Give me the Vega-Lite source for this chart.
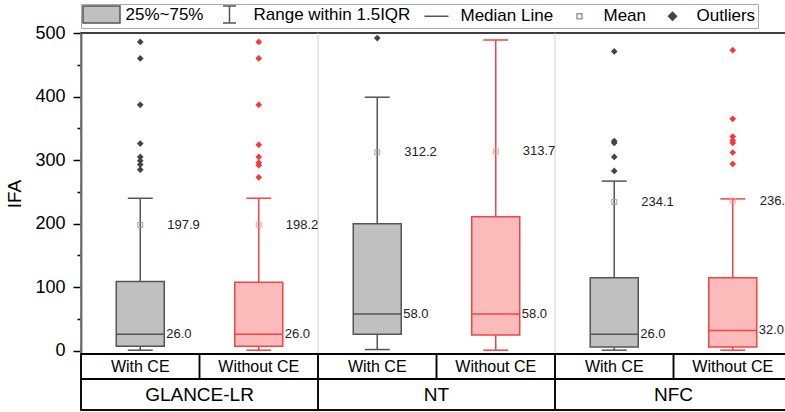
{
  "$schema": "https://vega.github.io/schema/vega-lite/v6.json",
  "padding": {"left": 5, "top": 2, "right": 0, "bottom": 0},
  "background": "white",
  "bounds": "flush",
  "config": {
    "font": "Liberation Sans",
    "view": {"stroke": "#000", "strokeWidth": 1.5}
  },
  "datasets": {
    "boxes": [
      {"method": "GLANCE-LR", "variant": "With CE", "lower": 1, "q1": 7, "median": 26.0, "q3": 109, "upper": 240, "mean": 197.9},
      {"method": "GLANCE-LR", "variant": "Without CE", "lower": 1, "q1": 7, "median": 26.0, "q3": 108, "upper": 240, "mean": 198.2},
      {"method": "NT", "variant": "With CE", "lower": 2, "q1": 26, "median": 58.0, "q3": 200, "upper": 399, "mean": 312.2},
      {"method": "NT", "variant": "Without CE", "lower": 1, "q1": 25, "median": 58.0, "q3": 211, "upper": 489, "mean": 313.7},
      {"method": "NFC", "variant": "With CE", "lower": 1, "q1": 6, "median": 26.0, "q3": 115, "upper": 267, "mean": 234.1},
      {"method": "NFC", "variant": "Without CE", "lower": 1, "q1": 6, "median": 32.0, "q3": 115, "upper": 239, "mean": 236.2}
    ],
    "outliers": [
      {"method": "GLANCE-LR", "variant": "With CE", "value": 486},
      {"method": "GLANCE-LR", "variant": "With CE", "value": 460},
      {"method": "GLANCE-LR", "variant": "With CE", "value": 387},
      {"method": "GLANCE-LR", "variant": "With CE", "value": 326},
      {"method": "GLANCE-LR", "variant": "With CE", "value": 305},
      {"method": "GLANCE-LR", "variant": "With CE", "value": 299},
      {"method": "GLANCE-LR", "variant": "With CE", "value": 293},
      {"method": "GLANCE-LR", "variant": "With CE", "value": 285},
      {"method": "GLANCE-LR", "variant": "Without CE", "value": 486},
      {"method": "GLANCE-LR", "variant": "Without CE", "value": 460},
      {"method": "GLANCE-LR", "variant": "Without CE", "value": 387},
      {"method": "GLANCE-LR", "variant": "Without CE", "value": 324},
      {"method": "GLANCE-LR", "variant": "Without CE", "value": 305},
      {"method": "GLANCE-LR", "variant": "Without CE", "value": 296},
      {"method": "GLANCE-LR", "variant": "Without CE", "value": 292},
      {"method": "GLANCE-LR", "variant": "Without CE", "value": 273},
      {"method": "NT", "variant": "With CE", "value": 492},
      {"method": "NFC", "variant": "With CE", "value": 471},
      {"method": "NFC", "variant": "With CE", "value": 330},
      {"method": "NFC", "variant": "With CE", "value": 327},
      {"method": "NFC", "variant": "With CE", "value": 305},
      {"method": "NFC", "variant": "With CE", "value": 283},
      {"method": "NFC", "variant": "Without CE", "value": 473},
      {"method": "NFC", "variant": "Without CE", "value": 365},
      {"method": "NFC", "variant": "Without CE", "value": 337},
      {"method": "NFC", "variant": "Without CE", "value": 331},
      {"method": "NFC", "variant": "Without CE", "value": 327},
      {"method": "NFC", "variant": "Without CE", "value": 312},
      {"method": "NFC", "variant": "Without CE", "value": 294}
    ],
    "methods": [
      {"method": "GLANCE-LR"},
      {"method": "NT"},
      {"method": "NFC"}
    ],
    "legendItems": []
  },
  "spacing": 0,
  "vconcat": [
    {
      "width": 711,
      "height": 321,
      "layer": [
        {
          "data": {"name": "methods"},
          "mark": {"type": "rule", "color": "#d0d0d0", "strokeWidth": 1},
          "encoding": {
            "x": {"field": "method", "type": "nominal", "bandPosition": 0, "scale": {"domain": ["GLANCE-LR", "NT", "NFC"], "paddingInner": 0, "paddingOuter": 0}, "axis": null}
          }
        },
        {
          "data": {"name": "boxes"},
          "mark": {"type": "rule", "strokeWidth": 1.5},
          "encoding": {
            "x": {"field": "method", "type": "nominal", "scale": {"domain": ["GLANCE-LR", "NT", "NFC"], "paddingInner": 0, "paddingOuter": 0}, "axis": null},
            "xOffset": {"field": "variant", "type": "nominal", "scale": {"domain": ["With CE", "Without CE"], "paddingInner": 0, "paddingOuter": 0}},
            "y": {"field": "lower", "type": "quantitative", "scale": {"domain": [-5, 500], "nice": false, "zero": false},
              "axis": {"orient": "left", "values": [0, 100, 200, 300, 400, 500], "title": "IFA", "titleFontSize": 19, "titleFontWeight": "normal", "titleColor": "#000", "titlePadding": 10, "labelFontSize": 18, "labelColor": "#000", "labelPadding": 8, "tickSize": 8, "tickWidth": 1.5, "tickColor": "#000", "domainColor": "#000", "domainWidth": 1.5, "grid": false}},
            "y2": {"field": "upper"},
            "stroke": {"field": "variant", "type": "nominal", "scale": {"domain": ["With CE", "Without CE"], "range": ["#555555", "#F24444"]}, "legend": null}
          }
        },
        {
          "data": {"name": "boxes"},
          "mark": {"type": "bar", "size": 48, "strokeWidth": 1.5},
          "encoding": {
            "x": {"field": "method", "type": "nominal", "scale": {"domain": ["GLANCE-LR", "NT", "NFC"], "paddingInner": 0, "paddingOuter": 0}, "axis": null},
            "xOffset": {"field": "variant", "type": "nominal", "scale": {"domain": ["With CE", "Without CE"], "paddingInner": 0, "paddingOuter": 0}},
            "y": {"field": "q1", "type": "quantitative",
              "axis": {"orient": "left", "values": [50, 150, 250, 350, 450], "labels": false, "title": null, "tickSize": 4, "tickWidth": 1.5, "tickColor": "#000", "domain": false, "grid": false}},
            "y2": {"field": "q3"},
            "fill": {"field": "variant", "type": "nominal", "scale": {"domain": ["With CE", "Without CE"], "range": ["#C0C0C0", "#FBBBBB"]}, "legend": null},
            "stroke": {"field": "variant", "type": "nominal", "scale": {"domain": ["With CE", "Without CE"], "range": ["#555555", "#F24444"]}, "legend": null}
          }
        },
        {
          "data": {"name": "boxes"},
          "mark": {"type": "tick", "size": 48, "thickness": 1.5, "opacity": 1},
          "encoding": {
            "x": {"field": "method", "type": "nominal", "scale": {"domain": ["GLANCE-LR", "NT", "NFC"], "paddingInner": 0, "paddingOuter": 0}, "axis": null},
            "xOffset": {"field": "variant", "type": "nominal", "scale": {"domain": ["With CE", "Without CE"], "paddingInner": 0, "paddingOuter": 0}},
            "y": {"field": "median", "type": "quantitative", "axis": null},
            "color": {"field": "variant", "type": "nominal", "scale": {"domain": ["With CE", "Without CE"], "range": ["#555555", "#F24444"]}, "legend": null}
          }
        },
        {
          "data": {"name": "boxes"},
          "mark": {"type": "tick", "size": 25, "thickness": 1.5, "opacity": 1},
          "encoding": {
            "x": {"field": "method", "type": "nominal", "scale": {"domain": ["GLANCE-LR", "NT", "NFC"], "paddingInner": 0, "paddingOuter": 0}, "axis": null},
            "xOffset": {"field": "variant", "type": "nominal", "scale": {"domain": ["With CE", "Without CE"], "paddingInner": 0, "paddingOuter": 0}},
            "y": {"field": "upper", "type": "quantitative", "axis": null},
            "color": {"field": "variant", "type": "nominal", "scale": {"domain": ["With CE", "Without CE"], "range": ["#555555", "#F24444"]}, "legend": null}
          }
        },
        {
          "data": {"name": "boxes"},
          "mark": {"type": "tick", "size": 25, "thickness": 1.5, "opacity": 1},
          "encoding": {
            "x": {"field": "method", "type": "nominal", "scale": {"domain": ["GLANCE-LR", "NT", "NFC"], "paddingInner": 0, "paddingOuter": 0}, "axis": null},
            "xOffset": {"field": "variant", "type": "nominal", "scale": {"domain": ["With CE", "Without CE"], "paddingInner": 0, "paddingOuter": 0}},
            "y": {"field": "lower", "type": "quantitative", "axis": null},
            "color": {"field": "variant", "type": "nominal", "scale": {"domain": ["With CE", "Without CE"], "range": ["#555555", "#F24444"]}, "legend": null}
          }
        },
        {
          "data": {"name": "boxes"},
          "mark": {"type": "point", "shape": "square", "size": 25, "filled": false, "strokeWidth": 1, "opacity": 1},
          "encoding": {
            "x": {"field": "method", "type": "nominal", "scale": {"domain": ["GLANCE-LR", "NT", "NFC"], "paddingInner": 0, "paddingOuter": 0}, "axis": null},
            "xOffset": {"field": "variant", "type": "nominal", "scale": {"domain": ["With CE", "Without CE"], "paddingInner": 0, "paddingOuter": 0}},
            "y": {"field": "mean", "type": "quantitative", "axis": null},
            "color": {"field": "variant", "type": "nominal", "scale": {"domain": ["With CE", "Without CE"], "range": ["#A0A0A0", "#F59A9A"]}, "legend": null}
          }
        },
        {
          "data": {"name": "boxes"},
          "mark": {"type": "text", "align": "left", "baseline": "middle", "dx": 27, "fontSize": 13, "color": "#222"},
          "encoding": {
            "x": {"field": "method", "type": "nominal", "scale": {"domain": ["GLANCE-LR", "NT", "NFC"], "paddingInner": 0, "paddingOuter": 0}, "axis": null},
            "xOffset": {"field": "variant", "type": "nominal", "scale": {"domain": ["With CE", "Without CE"], "paddingInner": 0, "paddingOuter": 0}},
            "y": {"field": "mean", "type": "quantitative", "axis": null},
            "text": {"field": "mean", "type": "quantitative", "format": ".1f"}
          }
        },
        {
          "data": {"name": "boxes"},
          "mark": {"type": "text", "align": "left", "baseline": "middle", "dx": 26, "fontSize": 13, "color": "#222"},
          "encoding": {
            "x": {"field": "method", "type": "nominal", "scale": {"domain": ["GLANCE-LR", "NT", "NFC"], "paddingInner": 0, "paddingOuter": 0}, "axis": null},
            "xOffset": {"field": "variant", "type": "nominal", "scale": {"domain": ["With CE", "Without CE"], "paddingInner": 0, "paddingOuter": 0}},
            "y": {"field": "median", "type": "quantitative", "axis": null},
            "text": {"field": "median", "type": "quantitative", "format": ".1f"}
          }
        },
        {
          "data": {"name": "outliers"},
          "mark": {"type": "point", "shape": "diamond", "size": 45, "filled": true, "opacity": 1},
          "encoding": {
            "x": {"field": "method", "type": "nominal", "scale": {"domain": ["GLANCE-LR", "NT", "NFC"], "paddingInner": 0, "paddingOuter": 0}, "axis": null},
            "xOffset": {"field": "variant", "type": "nominal", "scale": {"domain": ["With CE", "Without CE"], "paddingInner": 0, "paddingOuter": 0}},
            "y": {"field": "value", "type": "quantitative", "axis": null},
            "color": {"field": "variant", "type": "nominal", "scale": {"domain": ["With CE", "Without CE"], "range": ["#444444", "#F43A3A"]}, "legend": null}
          }
        },
        {
          "data": {"name": "legendItems"},
          "mark": {"type": "point", "opacity": 1, "strokeWidth": 1.5},
          "encoding": {
            "shape": {"field": "item", "type": "nominal", "title": null,
              "scale": {"domain": ["25%~75%", "Range within 1.5IQR", "Median Line", "Mean", "Outliers"],
                "range": ["M-3.7,-1.7H3.7V1.7H-3.7Z", "M-1.3,-1.7H1.3M0,-1.7V1.7M-1.3,1.7H1.3", "M-2.4,0H2.4", "M-0.5,-0.5H0.5V0.5H-0.5Z", "M0,-0.8L0.8,0L0,0.8L-0.8,0Z"]},
              "legend": {"orient": "top", "direction": "horizontal", "symbolSize": 100, "symbolStrokeWidth": 1.5, "symbolOffset": 10, "labelOffset": 15.5, "columnPadding": 7, "labelFontSize": 17, "labelColor": "#000", "padding": 2, "strokeColor": "#aaaaaa", "fillColor": "#ffffff", "offset": 5, "symbolOpacity": 1}},
            "fill": {"field": "item", "type": "nominal", "title": null,
              "scale": {"domain": ["25%~75%", "Range within 1.5IQR", "Median Line", "Mean", "Outliers"],
                "range": ["#C0C0C0", "transparent", "transparent", "transparent", "#444444"]},
              "legend": {"orient": "top", "direction": "horizontal", "symbolSize": 100, "symbolStrokeWidth": 1.5, "symbolOffset": 10, "labelOffset": 15.5, "columnPadding": 7, "labelFontSize": 17, "labelColor": "#000", "padding": 2, "strokeColor": "#aaaaaa", "fillColor": "#ffffff", "offset": 5, "symbolOpacity": 1}},
            "stroke": {"field": "item", "type": "nominal", "title": null,
              "scale": {"domain": ["25%~75%", "Range within 1.5IQR", "Median Line", "Mean", "Outliers"],
                "range": ["#555555", "#555555", "#555555", "#999999", "#444444"]},
              "legend": {"orient": "top", "direction": "horizontal", "symbolSize": 100, "symbolStrokeWidth": 1.5, "symbolOffset": 10, "labelOffset": 15.5, "columnPadding": 7, "labelFontSize": 17, "labelColor": "#000", "padding": 2, "strokeColor": "#aaaaaa", "fillColor": "#ffffff", "offset": 5, "symbolOpacity": 1}}
          }
        }
      ],
      "resolve": {
        "scale": {"color": "independent", "fill": "independent", "stroke": "independent", "shape": "independent"},
        "axis": {"y": "independent"}
      }
    },
    {
      "width": 711,
      "height": 25,
      "data": {"name": "boxes"},
      "layer": [
        {
          "mark": {"type": "bar", "fill": "transparent", "stroke": "#000", "strokeWidth": 1.5},
          "encoding": {
            "x": {"field": "method", "type": "nominal", "scale": {"domain": ["GLANCE-LR", "NT", "NFC"], "paddingInner": 0, "paddingOuter": 0}, "axis": null},
            "xOffset": {"field": "variant", "type": "nominal", "scale": {"domain": ["With CE", "Without CE"], "paddingInner": 0, "paddingOuter": 0}}
          }
        },
        {
          "mark": {"type": "text", "fontSize": 16, "color": "#000", "baseline": "middle"},
          "encoding": {
            "x": {"field": "method", "type": "nominal", "scale": {"domain": ["GLANCE-LR", "NT", "NFC"], "paddingInner": 0, "paddingOuter": 0}, "axis": null},
            "xOffset": {"field": "variant", "type": "nominal", "scale": {"domain": ["With CE", "Without CE"], "paddingInner": 0, "paddingOuter": 0}},
            "text": {"field": "variant", "type": "nominal"}
          }
        }
      ]
    },
    {
      "width": 711,
      "height": 31,
      "data": {"name": "methods"},
      "layer": [
        {
          "mark": {"type": "bar", "fill": "transparent", "stroke": "#000", "strokeWidth": 1.5},
          "encoding": {
            "x": {"field": "method", "type": "nominal", "scale": {"domain": ["GLANCE-LR", "NT", "NFC"], "paddingInner": 0, "paddingOuter": 0}, "axis": null}
          }
        },
        {
          "mark": {"type": "text", "fontSize": 19, "color": "#000", "baseline": "middle"},
          "encoding": {
            "x": {"field": "method", "type": "nominal", "scale": {"domain": ["GLANCE-LR", "NT", "NFC"], "paddingInner": 0, "paddingOuter": 0}, "axis": null},
            "text": {"field": "method", "type": "nominal"}
          }
        }
      ]
    }
  ]
}
